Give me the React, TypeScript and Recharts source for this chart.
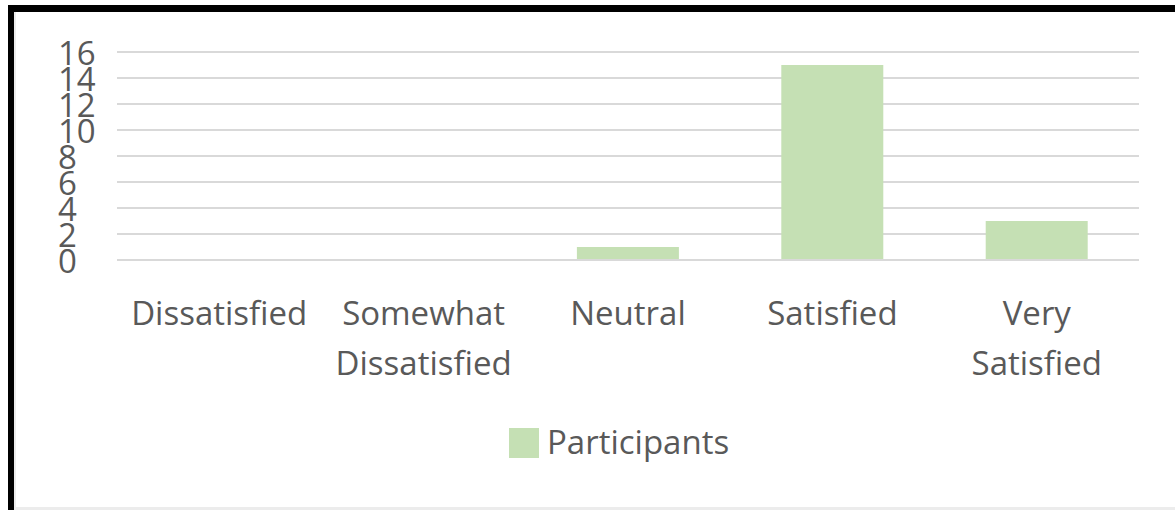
import React from "react";
import { BarChart, Bar, XAxis, YAxis, CartesianGrid, Legend } from "recharts";

// Survey responses: number of participants per satisfaction level
const categories = ["Dissatisfied", "Somewhat Dissatisfied", "Neutral", "Satisfied", "Very Satisfied"];
const participants = [0, 0, 1, 15, 3];
const yTicks = [0, 2, 4, 6, 8, 10, 12, 14, 16];

const data = categories.map((name, i) => ({ name, Participants: participants[i] }));

const FONT = "'Open Sans', 'Noto Sans', sans-serif";
const TEXT = "#595959";
const BAR = "#C5E0B4";
const FS = 33;

const YTick = (props: any) => {
  const { y, payload } = props;
  return (
    <text x={58} y={y} dy={13} textAnchor="start" fontFamily={FONT} fontSize={FS} fill={TEXT}>
      {payload.value}
    </text>
  );
};

const XTick = (props: any) => {
  const { x, y, payload } = props;
  const words = String(payload.value).split(" ");
  return (
    <text x={x} y={y} textAnchor="middle" fontFamily={FONT} fontSize={FS} fill={TEXT}>
      {words.map((w, i) => (
        <tspan key={i} x={x} dy={i === 0 ? 57 : 50}>
          {w}
        </tspan>
      ))}
    </text>
  );
};

const LegendContent = () => (
  <div style={{ height: 40, display: "flex", alignItems: "center", paddingLeft: 509 }}>
    <div style={{ width: 30, height: 30, background: BAR, marginRight: 8, marginTop: 2 }} />
    <span style={{ fontFamily: FONT, fontSize: FS, color: TEXT, lineHeight: "40px" }}>Participants</span>
  </div>
);

export default function App() {
  return (
    <div style={{ position: "absolute", left: 0, top: 0, width: 1175, height: 510, background: "#fff", overflow: "hidden" }}>
      {/* frame */}
      <div style={{ position: "absolute", left: 8, top: 5, width: 1167, height: 7, background: "#000" }} />
      <div style={{ position: "absolute", left: 8, top: 5, width: 6, height: 505, background: "#000" }} />
      <div style={{ position: "absolute", left: 14, top: 12, width: 2, height: 498, background: "#ececec" }} />
      <div style={{ position: "absolute", left: 14, top: 507, width: 1161, height: 3, background: "#ececec" }} />
      <div style={{ position: "absolute", left: 0, top: 0 }}>
        <BarChart
          width={1175}
          height={510}
          data={data}
          barCategoryGap="25%"
          margin={{ top: 52, right: 36, bottom: 80, left: 0 }}
        >
          <CartesianGrid horizontal vertical={false} stroke="#d9d9d9" strokeWidth={2} />
          <YAxis
            width={117}
            domain={[0, 16]}
            ticks={yTicks}
            interval={0}
            axisLine={false}
            tickLine={false}
            tick={<YTick />}
          />
          <XAxis
            dataKey="name"
            height={130}
            interval={0}
            axisLine={{ stroke: "#d9d9d9", strokeWidth: 2 }}
            tickLine={false}
            tick={<XTick />}
          />
          <Legend content={<LegendContent />} wrapperStyle={{ left: 0, top: 422, width: 1175, height: 40 }} />
          <Bar dataKey="Participants" fill={BAR} isAnimationActive={false} />
        </BarChart>
      </div>
    </div>
  );
}
